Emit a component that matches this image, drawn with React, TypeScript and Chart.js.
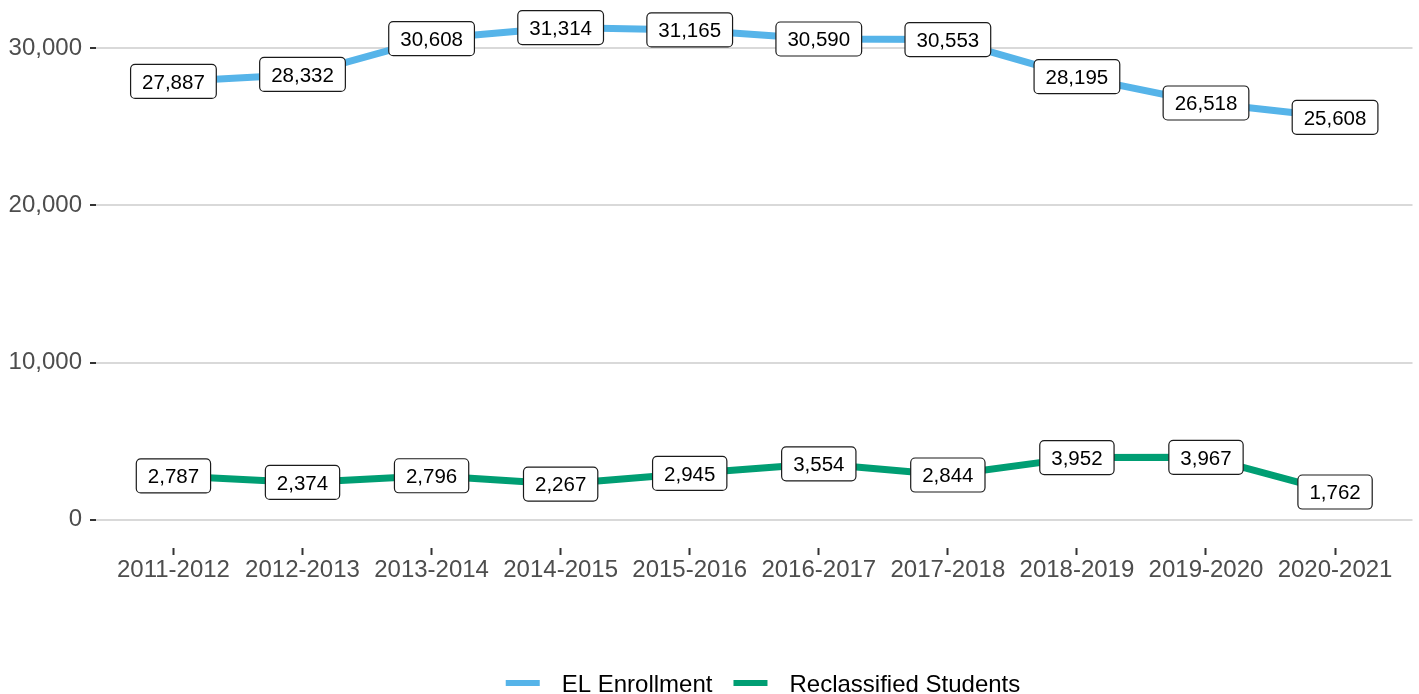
import React, { useEffect, useRef } from "react";
import { Chart, registerables } from "chart.js";

Chart.register(...registerables);

const years = [
  "2011-2012", "2012-2013", "2013-2014", "2014-2015", "2015-2016",
  "2016-2017", "2017-2018", "2018-2019", "2019-2020", "2020-2021",
];
const elEnrollment = [27887, 28332, 30608, 31314, 31165, 30590, 30553, 28195, 26518, 25608];
const reclassified = [2787, 2374, 2796, 2267, 2945, 3554, 2844, 3952, 3967, 1762];
const yTicks = [0, 10000, 20000, 30000];
const seriesNames = ["EL Enrollment", "Reclassified Students"];
const seriesColors = ["#56B4E9", "#009E73"];
const seriesValues = [elEnrollment, reclassified];

const FONT = '"Liberation Sans", Arial, Helvetica, sans-serif';

const labelPlugin = {
  id: "valueLabels",
  afterDatasetsDraw(chart: any) {
    const ctx = chart.ctx;
    ctx.save();
    const fs = 20.5;
    ctx.font = `${fs}px ${FONT}`;
    chart.data.datasets.forEach((_ds: any, di: number) => {
      const meta = chart.getDatasetMeta(di);
      meta.data.forEach((pt: any, i: number) => {
        const text = seriesValues[di][i].toLocaleString("en-US");
        const tw = ctx.measureText(text).width;
        const w = tw + 23;
        const h = 34;
        const x0 = pt.x - w / 2;
        const y0 = pt.y - h / 2;
        ctx.beginPath();
        if ((ctx as any).roundRect) {
          (ctx as any).roundRect(x0, y0, w, h, 4.5);
        } else {
          ctx.rect(x0, y0, w, h);
        }
        ctx.fillStyle = "#ffffff";
        ctx.fill();
        ctx.lineWidth = 1.2;
        ctx.strokeStyle = "#1a1a1a";
        ctx.stroke();
        ctx.fillStyle = "#000000";
        ctx.textAlign = "center";
        ctx.textBaseline = "alphabetic";
        ctx.fillText(text, pt.x, pt.y + 0.358 * fs);
      });
    });
    ctx.restore();
  },
};

const legendPlugin = {
  id: "bottomLegend",
  afterDraw(chart: any) {
    const ctx = chart.ctx;
    ctx.save();
    const fs = 24;
    ctx.font = `${fs}px ${FONT}`;
    const sw = 34;
    const gap = 22;
    const itemGap = 21;
    const widths = seriesNames.map((n) => ctx.measureText(n).width);
    let total = 0;
    widths.forEach((w, i) => {
      total += sw + gap + w + (i < widths.length - 1 ? itemGap : 0);
    });
    let x = 763 - total / 2;
    const cy = 683;
    seriesNames.forEach((name, i) => {
      ctx.fillStyle = seriesColors[i];
      ctx.fillRect(x, cy - 3, sw, 6);
      x += sw + gap;
      ctx.fillStyle = "#000000";
      ctx.textAlign = "left";
      ctx.textBaseline = "alphabetic";
      ctx.fillText(name, x, cy + 0.358 * fs);
      x += widths[i] + itemGap;
    });
    ctx.restore();
  },
};

export default function App() {
  const canvasRef = useRef<HTMLCanvasElement | null>(null);

  useEffect(() => {
    document.body.style.margin = "0";
    const canvas = canvasRef.current;
    if (!canvas) return;
    const chart = new Chart(canvas, {
      type: "line",
      data: {
        datasets: seriesNames.map((name, di) => ({
          label: name,
          data: seriesValues[di].map((v, i) => ({ x: i, y: v })),
          borderColor: seriesColors[di],
          backgroundColor: seriesColors[di],
          borderWidth: 7,
          pointRadius: 0,
          pointHoverRadius: 0,
          tension: 0,
          fill: false,
          borderCapStyle: "butt",
          borderJoinStyle: "round",
        })),
      },
      options: {
        animation: false,
        responsive: false,
        devicePixelRatio: 1,
        events: [],
        layout: { padding: { top: 3, right: 6.5, left: 0, bottom: 0 } },
        plugins: {
          legend: { display: false },
          tooltip: { enabled: false },
        },
        scales: {
          x: {
            type: "linear",
            min: -0.6,
            max: 9.6,
            afterBuildTicks: (scale: any) => {
              scale.ticks = years.map((_, i) => ({ value: i }));
            },
            afterFit: (scale: any) => {
              scale.height = 146;
              scale.paddingLeft = 0;
              scale.paddingRight = 0;
              scale.paddingTop = 0;
              scale.paddingBottom = 0;
            },
            ticks: {
              callback: (v: any) => years[Math.round(Number(v))] ?? "",
              font: { size: 24, family: FONT },
              color: "#4d4d4d",
              padding: 1,
              maxRotation: 0,
              minRotation: 0,
              autoSkip: false,
            },
            grid: {
              drawOnChartArea: false,
              drawTicks: true,
              tickLength: 7,
              tickColor: "#333333",
              tickWidth: 2,
            },
            border: { display: false },
          },
          y: {
            type: "linear",
            min: -1800,
            max: 32880,
            afterBuildTicks: (scale: any) => {
              scale.ticks = yTicks.map((v) => ({ value: v }));
            },
            afterFit: (scale: any) => {
              scale.width = 96;
              scale.paddingLeft = 0;
              scale.paddingRight = 0;
              scale.paddingTop = 0;
              scale.paddingBottom = 0;
            },
            ticks: {
              callback: (v: any) => Number(v).toLocaleString("en-US"),
              font: { size: 24, family: FONT },
              color: "#4d4d4d",
              padding: 8,
            },
            grid: {
              color: "#d9d9d9",
              lineWidth: 2,
              drawTicks: true,
              tickLength: 6,
              tickColor: "#333333",
              tickWidth: 2,
            },
            border: { display: false },
          },
        },
      } as any,
      plugins: [labelPlugin, legendPlugin],
    });
    return () => chart.destroy();
  }, []);

  return (
    <div style={{ width: 1419, height: 694 }}>
      <canvas ref={canvasRef} width={1419} height={694} style={{ display: "block" }} />
    </div>
  );
}
